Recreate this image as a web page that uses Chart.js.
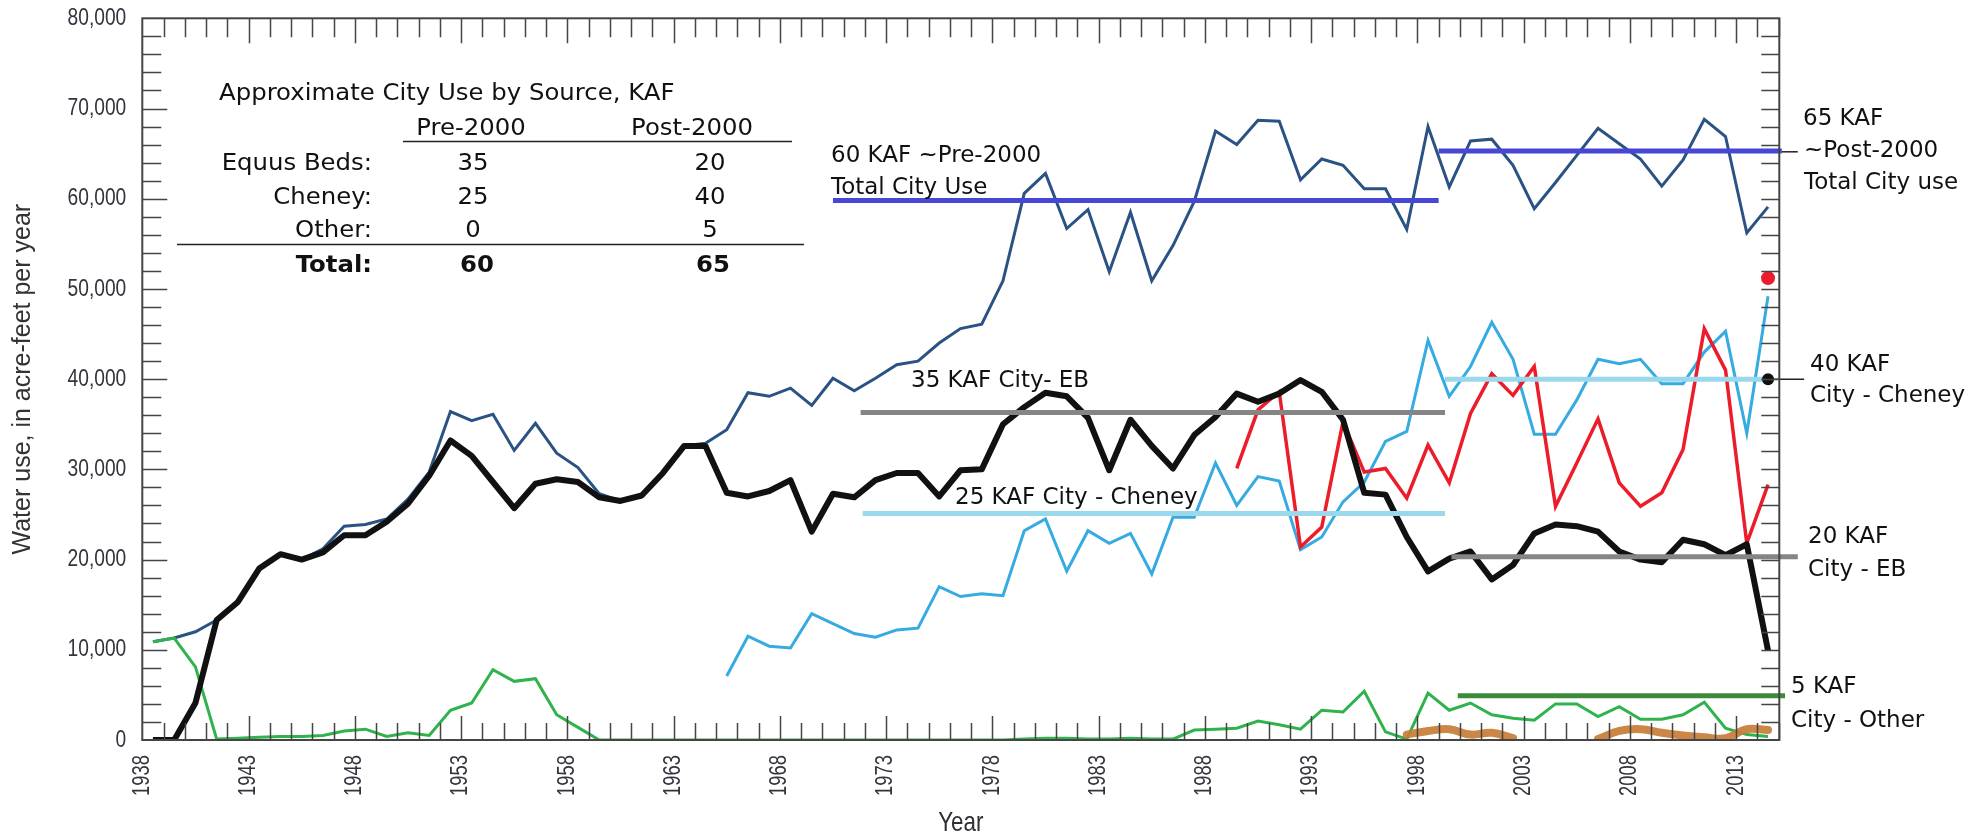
<!DOCTYPE html>
<html>
<head>
<meta charset="utf-8">
<title>City water use by source</title>
<script src="https://cdn.jsdelivr.net/npm/chart.js@4.4.1/dist/chart.umd.min.js"></script>
<style>
  html, body { margin: 0; padding: 0; background: #fff; }
  #myChart { display: block; }
</style>
</head>
<body>
<canvas id="myChart" width="1986" height="838"></canvas>
<script>
// water years, each value is plotted at mid-year
const years = [
  1938, 1939, 1940, 1941, 1942, 1943, 1944, 1945, 1946, 1947,
  1948, 1949, 1950, 1951, 1952, 1953, 1954, 1955, 1956, 1957,
  1958, 1959, 1960, 1961, 1962, 1963, 1964, 1965, 1966, 1967,
  1968, 1969, 1970, 1971, 1972, 1973, 1974, 1975, 1976, 1977,
  1978, 1979, 1980, 1981, 1982, 1983, 1984, 1985, 1986, 1987,
  1988, 1989, 1990, 1991, 1992, 1993, 1994, 1995, 1996, 1997,
  1998, 1999, 2000, 2001, 2002, 2003, 2004, 2005, 2006, 2007,
  2008, 2009, 2010, 2011, 2012, 2013, 2014
]

// total city use (acre-feet)
const totalUse = [
  10900, 11300, 12000, 13300, 15300, 19000, 20600, 20000, 21200, 23700,
  23900, 24500, 26700, 29700, 36400, 35400, 36100, 32100, 35100, 31800,
  30200, 27300, 26500, 27100, 29600, 32600, 32900, 34400, 38500, 38100,
  39000, 37100, 40100, 38700, 40100, 41600, 42000, 44000, 45600, 46100,
  50900, 60600, 62800, 56700, 58800, 51900, 58500, 50900, 54800, 59700,
  67500, 66000, 68700, 68600, 62100, 64400, 63700, 61100, 61100, 56600,
  68000, 61300, 66400, 66600, 63700, 58900, 61800, 64800, 67800, 66100,
  64400, 61400, 64300, 68800, 66900, 56200, 59100
]

// Equus Beds (black)
const equusBeds = [
  0, 0, 4100, 13300, 15300, 19000, 20600, 20000, 20800, 22700,
  22700, 24200, 26200, 29300, 33200, 31500, 28600, 25700, 28400, 28900,
  28600, 26900, 26500, 27100, 29600, 32600, 32600, 27400, 27000, 27600,
  28800, 23100, 27300, 26900, 28800, 29600, 29600, 27000, 29900, 30000,
  35000, 36900, 38500, 38100, 35700, 29900, 35500, 32600, 30100, 33800,
  35800, 38400, 37500, 38400, 39900, 38600, 35500, 27400, 27200, 22500,
  18700, 20100, 20900, 17800, 19400, 22900, 23900, 23700, 23100, 20900,
  20000, 19700, 22200, 21700, 20500, 21700, 9900
]

// Cheney (light blue), from 1965
const cheneyFrom = 1965
const cheney = [
  7100, 11500, 10400, 10200, 14000, 12900, 11800, 11400, 12200, 12400,
  17000, 15900, 16200, 16000, 23200, 24500, 18700, 23200, 21800, 22900,
  18400, 24700, 24700, 30700, 26000, 29200, 28700, 21100, 22500, 26400,
  28600, 33100, 34200, 44300, 38100, 41400, 46300, 42200, 33900, 33900,
  37700, 42200, 41700, 42200, 39500, 39500, 43000, 45300, 34000, 49200
]

// red series, from 1989
const redFrom = 1989
const redSeries = [
  30100, 36600, 38600, 21400, 23600, 35300, 29700, 30100, 26800, 32700,
  28500, 36200, 40600, 38200, 41400, 25900, 30700, 35600, 28500, 25900,
  27400, 32200, 45600, 41000, 21800, 28300
]

// other sources (green)
const other = [
  10900, 11300, 8100, 100, 200, 300, 400, 400, 500, 1000,
  1200, 400, 800, 500, 3300, 4100, 7800, 6500, 6800, 2800,
  1400, 0, 0, 0, 0, 0, 0, 0, 0, 0,
  0, 0, 0, 0, 0, 0, 0, 0, 0, 0,
  0, 100, 200, 200, 100, 100, 200, 100, 100, 1100,
  1200, 1300, 2100, 1700, 1200, 3300, 3100, 5400, 900, 100,
  5200, 3300, 4100, 2800, 2400, 2200, 4000, 4000, 2600, 3700,
  2300, 2300, 2800, 4200, 1300, 600, 400
]

// small other source (brown), from 1997, gaps are null
const otherSmallFrom = 1997
const otherSmall = [
  600, 1000, 1200, 600, 800, 200, null, null, null, 100,
  1000, 1200, 800, 500, 300, 200, 1200, 1100
]

// last-year markers
const markerYear = 2014
const redDot = 51200
const blackDot = 40000

const tickYears = [1938, 1943, 1948, 1953, 1958, 1963, 1968, 1973, 1978, 1983, 1988, 1993, 1998, 2003, 2008, 2013]
const tickValues = [0, 10000, 20000, 30000, 40000, 50000, 60000, 70000, 80000]

// KAF reference lines (level, start, end on the year axis)
const refLevel = [59800, 65300, 36300, 25100, 40000, 20300, 4900]
const refFrom = [1970.5, 1999.0, 1971.8, 1971.9, 1999.3, 1999.6, 1999.9]
const refTo = [1999.0, 2015.15, 1999.3, 1999.3, 2014.35, 2015.9, 2015.3]
const refColor = ['#4747d3', '#4747d3', '#858585', '#9ad8eb', '#9ad8eb', '#858585', '#3d8b3a']

// approximate use table, KAF
const tableSources = ['Equus Beds:', 'Cheney:', 'Other:']
const tablePre = [35, 25, 0]
const tablePost = [20, 40, 5]
const tableTotal = [60, 65]

function series(values, from) {
  const start = years.indexOf(from)
  return values.map(function (v, i) {
    return { x: years[start + i] + 0.5, y: v }
  })
}

function lineSet(data, color, width, extra) {
  return Object.assign({
    data: data,
    borderColor: color,
    backgroundColor: color,
    borderWidth: width,
    pointRadius: 0,
    fill: false,
    tension: 0,
    spanGaps: false,
  }, extra || {})
}

const refSets = refLevel.map(function (lvl, i) {
  return lineSet([{ x: refFrom[i], y: lvl }, { x: refTo[i], y: lvl }], refColor[i], 5, { clip: false })
})

const datasets = [
  // dots on top
  lineSet([{ x: markerYear + 0.5, y: redDot }], '#ec1c2b', 0, { pointRadius: 7, showLine: false, clip: false }),
  lineSet([{ x: markerYear + 0.5, y: blackDot }], '#111', 0, { pointRadius: 6, showLine: false, clip: false }),
  // leaders out to the right-hand labels
  lineSet([{ x: 2015.15, y: 65200 }, { x: 2015.9, y: 65200 }], '#222', 1.5, { clip: false }),
  lineSet([{ x: markerYear + 0.5, y: blackDot }, { x: 2016.2, y: blackDot }], '#222', 1.5, { clip: false }),
].concat(refSets).concat([
  lineSet(series(equusBeds, years[0]), '#111', 6, { borderJoinStyle: 'round' }),
  lineSet(series(redSeries, redFrom), '#ec1c2b', 3.5),
  lineSet(series(cheney, cheneyFrom), '#36abe1', 3),
  lineSet(series(otherSmall, otherSmallFrom), 'rgba(200,125,55,0.92)', 8, { tension: 0.4, borderCapStyle: 'round' }),
  lineSet(series(other, years[0]), '#2fb34c', 3),
  lineSet(series(totalUse, years[0]), '#2a5384', 3),
])

// text helper, sx squeezes or widens the glyphs
function txt(ctx, s, x, y, opt) {
  opt = opt || {}
  ctx.save()
  ctx.font = (opt.bold ? 'bold ' : '') + (opt.size || 23) + 'px ' + (opt.family || '"DejaVu Sans", sans-serif')
  ctx.textAlign = opt.align || 'left'
  ctx.textBaseline = opt.baseline || 'alphabetic'
  ctx.fillStyle = opt.color || '#111'
  ctx.translate(x, y)
  if (opt.rotate) ctx.rotate(opt.rotate)
  ctx.scale(opt.sx || 1, 1)
  ctx.fillText(s, 0, 0)
  ctx.restore()
}

function hline(ctx, x1, x2, y) {
  ctx.save()
  ctx.strokeStyle = '#222'
  ctx.lineWidth = 1.6
  ctx.beginPath()
  ctx.moveTo(x1, y)
  ctx.lineTo(x2, y)
  ctx.stroke()
  ctx.restore()
}

// narrow axis lettering (Arial Narrow look)
const axisFont = { family: "'Liberation Sans', Arial, sans-serif", sx: 0.8, color: '#34343e' }

// frame with inside tick marks, axis labels and notes
const frame = {
  id: 'frame',
  afterDatasetsDraw(chart) {
    const ctx = chart.ctx
    const a = chart.chartArea
    const x = chart.scales.x
    const y = chart.scales.y
    ctx.save()
    ctx.strokeStyle = '#454545'
    ctx.lineWidth = 1.5
    ctx.beginPath()
    for (let yr = years[0] + 1; yr < x.max; yr++) {
      const px = Math.round(x.getPixelForValue(yr)) + 0.5
      const major = (yr - years[0]) % 5 === 0
      ctx.moveTo(px, a.bottom)
      ctx.lineTo(px, a.bottom - (major ? 24 : 17))
      ctx.moveTo(px, a.top)
      ctx.lineTo(px, a.top + (major ? 25 : 19))
    }
    for (let v = 2000; v < y.max; v += 2000) {
      const py = Math.round(y.getPixelForValue(v)) + 0.5
      ctx.moveTo(a.left, py)
      ctx.lineTo(a.left + (v % 10000 === 0 ? 25 : 19), py)
      ctx.moveTo(a.right, py)
      ctx.lineTo(a.right - 18, py)
    }
    ctx.stroke()
    ctx.lineWidth = 2
    ctx.strokeRect(a.left, a.top, a.right - a.left, a.bottom - a.top)
    ctx.restore()
  },
  afterDraw(chart) {
    const ctx = chart.ctx
    const a = chart.chartArea
    const x = chart.scales.x
    const y = chart.scales.y

    // axis tick labels
    tickValues.forEach(function (v) {
      txt(ctx, v.toLocaleString('en-US'), a.left - 16, y.getPixelForValue(v), {
        family: axisFont.family, sx: axisFont.sx, color: axisFont.color, size: 24, align: 'right', baseline: 'middle'
      })
    })
    tickYears.forEach(function (yr) {
      txt(ctx, String(yr), x.getPixelForValue(yr), a.bottom + 15, {
        family: axisFont.family, sx: axisFont.sx, color: axisFont.color, size: 23, align: 'right', baseline: 'middle', rotate: -Math.PI / 2
      })
    })
    txt(ctx, 'Year', (a.left + a.right) / 2, 823, {
      family: axisFont.family, sx: axisFont.sx, color: '#2e2e36', size: 28, align: 'center', baseline: 'middle'
    })

    // table
    const t = 1.06
    txt(ctx, 'Approximate City Use by Source, KAF', 219, 100, { sx: t })
    txt(ctx, 'Pre-2000', 471, 135, { sx: t, align: 'center' })
    txt(ctx, 'Post-2000', 692, 135, { sx: t, align: 'center' })
    hline(ctx, 403, 792, 141.5)
    const rowBase = [170, 204, 237]
    tableSources.forEach(function (s, i) {
      txt(ctx, s, 372, rowBase[i], { sx: t, align: 'right' })
      txt(ctx, String(tablePre[i]), 473, rowBase[i], { sx: t, align: 'center' })
      txt(ctx, String(tablePost[i]), 710, rowBase[i], { sx: t, align: 'center' })
    })
    hline(ctx, 177, 804, 244.5)
    txt(ctx, 'Total:', 372, 272, { sx: t, align: 'right', bold: true })
    txt(ctx, String(tableTotal[0]), 477, 272, { sx: t, align: 'center', bold: true })
    txt(ctx, String(tableTotal[1]), 713, 272, { sx: t, align: 'center', bold: true })

    // line labels inside the plot
    txt(ctx, '60 KAF ~Pre-2000', 831, 162)
    txt(ctx, 'Total City Use', 831, 194)
    txt(ctx, '35 KAF City- EB', 911, 387)
    txt(ctx, '25 KAF City - Cheney', 955, 504)

    // labels right of the plot
    txt(ctx, '65 KAF', 1803, 125)
    txt(ctx, '~Post-2000', 1804, 157)
    txt(ctx, 'Total City use', 1804, 189)
    txt(ctx, '40 KAF', 1810, 371)
    txt(ctx, 'City - Cheney', 1810, 402)
    txt(ctx, '20 KAF', 1808, 543)
    txt(ctx, 'City - EB', 1808, 576)
    txt(ctx, '5 KAF', 1791, 693)
    txt(ctx, 'City - Other', 1791, 727)
  }
}

const config = {
  type: 'line',
  data: { datasets: datasets },
  options: {
    responsive: false,
    animation: false,
    devicePixelRatio: 1,
    layout: { padding: { top: 18.3, right: 206.7, left: 0, bottom: 0 } },
    plugins: {
      legend: { display: false },
      tooltip: { enabled: false },
    },
    scales: {
      x: {
        type: 'linear',
        min: 1938,
        max: 2015.03,
        afterBuildTicks: function (s) {
          s.ticks = tickYears.map(function (v) { return { value: v } })
        },
        afterFit: function (s) {
          s.height = 98
          s.paddingLeft = 0
          s.paddingRight = 0
        },
        grid: { display: false, drawTicks: false },
        border: { display: false },
        ticks: { display: false },
      },
      y: {
        min: 0,
        max: 80000,
        afterFit: function (s) {
          s.width = 142.3
          s.paddingTop = 0
          s.paddingBottom = 0
        },
        grid: { display: false, drawTicks: false },
        border: { display: false },
        ticks: { display: false, stepSize: 10000 },
        title: {
          display: true,
          text: 'Water use, in acre-feet per year',
          color: '#333',
          font: { family: "'Liberation Sans', Arial, sans-serif", size: 25 },
          padding: { top: 8, bottom: 0 },
        },
      },
    },
  },
  plugins: [frame],
}

const myChart = new Chart(document.getElementById('myChart'), config)
</script>
</body>
</html>
